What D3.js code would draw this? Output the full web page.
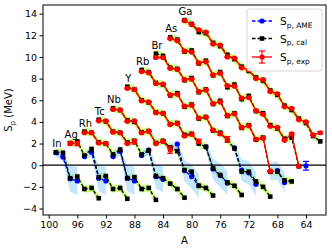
<!DOCTYPE html>
<html><head><meta charset="utf-8">
<script src="https://cdn.jsdelivr.net/npm/d3@7"></script>
<style>body{margin:0;background:#fff}svg{display:block}text{font-family:"DejaVu Sans",sans-serif}</style>
</head><body><svg id="c" width="332" height="252"></svg>
<script>
// ---- data ----
const elements = ["In","Ag","Rh","Tc","Nb","Y","Rb","Br","As","Ga"];
const massStart = [99,97,95,93,91,89,87,85,83,81];   // N = 50 isotones, chains go to lower A
const spCal = [
  [1.20,1.15,-1.20,-1.05,-2.20,-2.10,-3.05],
  [2.05,2.20,0.90,1.50,-1.10,-1.00,-2.20,-2.10,-3.10],
  [3.10,3.00,2.10,2.00,1.00,1.45,-1.20,-1.10,-2.20,-2.10,-3.20],
  [4.20,4.05,3.10,3.00,2.10,2.25,1.00,1.35,-1.00,-1.20,-1.70,-2.20,-3.00],
  [5.25,5.10,4.15,4.00,3.05,3.15,2.05,2.25,1.65,1.30,-0.45,-0.60,-1.90,-2.10,-2.80],
  [7.25,7.00,6.00,5.80,4.90,4.80,3.80,3.90,2.80,2.90,2.00,1.70,-0.30,-0.90,-1.60,-1.90,-2.75],
  [8.80,8.60,7.60,7.45,6.45,6.65,5.40,5.60,4.30,4.45,3.20,3.00,2.30,1.55,-0.60,-0.60,-1.50,-2.00,-2.90],
  [10.30,10.10,9.00,8.90,7.85,8.05,6.75,7.00,5.65,5.95,4.55,4.80,3.45,3.70,2.35,2.55,-0.60,-0.60,-1.40,-1.50],
  [11.80,11.60,10.50,10.60,9.40,9.65,8.30,8.60,7.20,7.45,6.10,6.40,5.00,4.80,3.70,3.40,2.45,2.55,-0.10],
  [13.40,13.05,12.30,12.20,11.30,11.00,10.20,9.80,9.10,8.70,8.10,7.80,6.90,6.50,5.50,5.10,4.30,3.90,2.70,2.20]
];
const spExp = [
  [],
  [2.00,2.00],
  [3.00,3.00,2.05,2.00],
  [4.10,4.10,3.05,3.00,2.00,2.15],
  [5.15,5.10,4.05,4.10,3.00,3.15,2.00,2.20,1.40],
  [7.10,7.00,5.95,5.85,4.85,4.80,3.75,3.85,2.70,2.85,2.20],
  [8.65,8.55,7.55,7.50,6.50,6.55,5.45,5.55,4.35,4.45,3.25,2.90,2.40],
  [9.95,9.95,8.95,8.85,7.90,7.95,6.80,6.95,5.70,5.85,4.60,4.75,3.50,3.65,2.40,2.50,-0.55],
  [11.70,11.50,10.55,10.45,9.45,9.55,8.35,8.50,7.35,7.30,6.20,6.25,5.05,4.70,3.60,3.50,2.30,2.90,-0.10],
  [13.35,13.00,12.50,12.30,11.20,11.10,10.00,9.90,9.00,8.80,8.00,7.90,6.80,6.60,5.40,5.25,4.20,4.00,2.80,3.00]
];
const spExpErr = [
  [],
  [0.15,0.20],
  [0.05,0.05,0.05,0.10],
  [0.05,0.05,0.05,0.05,0.05,0.20],
  [0.05,0.05,0.05,0.05,0.05,0.05,0.05,0.10,0.30],
  [0.05,0.05,0.05,0.05,0.05,0.05,0.05,0.05,0.05,0.10,0.20],
  [0.05,0.05,0.05,0.05,0.05,0.05,0.05,0.05,0.05,0.05,0.05,0.15,0.25],
  [0.05,0.05,0.05,0.05,0.05,0.05,0.05,0.05,0.05,0.05,0.05,0.05,0.05,0.05,0.10,0.10,0.05],
  [0.05,0.05,0.05,0.05,0.05,0.05,0.05,0.05,0.05,0.05,0.05,0.05,0.05,0.05,0.05,0.05,0.05,0.10,0.05],
  [0.05,0.05,0.05,0.05,0.05,0.05,0.05,0.05,0.05,0.05,0.05,0.05,0.05,0.05,0.05,0.05,0.05,0.05,0.05,0.10]
];
const ameMass = [
  [99,98,97,96],[95,94,93,92],[91,90,89,88],[87,86,85,84],[83,82,81,80,79],
  [78,77,76,75],[74,73,72,71],[69,68,67],[],[]
];
const spAme = [
  [1.15,0.75,-1.25,-1.45],[0.80,1.20,-1.20,-1.45],[0.80,1.30,-1.20,-1.45],[0.90,1.40,-1.05,-1.30],
  [1.55,1.95,-0.50,-1.05,-1.90],[1.70,-0.35,-0.95,-1.65],[1.60,-0.45,-0.70,-1.75],[-0.60,-0.50,-1.60],[],[]
];
const ameUnc = [
  [0.35,0.40,1.20,1.30],[0.35,0.40,1.20,1.30],[0.35,0.40,1.20,1.30],[0.35,0.40,1.10,1.20],
  [0.35,0.40,1.00,1.10,1.10],[0.40,1.00,1.10,1.10],[0.40,1.00,1.10,1.10],[0.80,0.90,0.90],[],[]
];
const ameErrMass = [64];
const ameErrSp = [-0.05];
const ameErr = [0.40];
const calBand = 0.35;
const xTicks = [100,96,92,88,84,80,76,72,68,64];
const yTicks = [-4,-2,0,2,4,6,8,10,12,14];

// ---- chart ----
const svg = d3.select("#c");
const L=43,R=326,T=5,B=215;
const x = d3.scaleLinear().domain([100.8,61.2]).range([L,R]);
const y = d3.scaleLinear().domain([-4.6,14.8]).range([B,T]);

svg.append("defs").append("clipPath").attr("id","pc")
  .append("rect").attr("x",L).attr("y",T).attr("width",R-L).attr("height",B-T);
const g = svg.append("g").attr("clip-path","url(#pc)");

const chains = elements.map((el,i)=>{
  const cal = spCal[i].map((s,k)=>({A:massStart[i]-k,s}));
  const exp = spExp[i].map((s,k)=>({A:massStart[i]-k,s,e:spExpErr[i][k]}));
  const ame = spAme[i].map((s,k)=>({A:ameMass[i][k],s,u:ameUnc[i][k]}));
  return {el,cal,exp,ame};
});

const line = d3.line().x(d=>x(d.A)).y(d=>y(d.s));
// green bands
chains.forEach(c=>{
  g.append("path").datum(c.cal)
    .attr("d",d3.area().x(d=>x(d.A)).y0(d=>y(d.s-calBand)).y1(d=>y(d.s+calBand)))
    .attr("fill","#adff2f").attr("opacity",0.6);
});
// blue bands
chains.forEach(c=>{
  if(!c.ame.length) return;
  g.append("path").datum(c.ame)
    .attr("d",d3.area().x(d=>x(d.A)).y0(d=>y(d.s-d.u)).y1(d=>y(d.s+d.u)))
    .attr("fill","#87cefa").attr("opacity",0.5);
});
// zero line
g.append("line").attr("x1",L).attr("x2",R).attr("y1",y(0)).attr("y2",y(0))
  .attr("stroke","#000").attr("stroke-width",1.2);
// AME
chains.forEach(c=>{
  if(!c.ame.length) return;
  g.append("path").datum(c.ame).attr("d",line).attr("fill","none")
    .attr("stroke","#0000ff").attr("stroke-width",1.3).attr("stroke-dasharray","3.5,2");
  g.selectAll(null).data(c.ame).enter().append("circle")
    .attr("cx",d=>x(d.A)).attr("cy",d=>y(d.s)).attr("r",2.6).attr("fill","#0000ff");
});
// cal
chains.forEach(c=>{
  g.append("path").datum(c.cal).attr("d",line).attr("fill","none")
    .attr("stroke","#000").attr("stroke-width",1.3).attr("stroke-dasharray","3.5,2");
  g.selectAll(null).data(c.cal).enter().append("rect")
    .attr("x",d=>x(d.A)-2.3).attr("y",d=>y(d.s)-2.3).attr("width",4.6).attr("height",4.6).attr("fill","#000");
});
// exp
function errbar(sel, data, color){
  data.forEach(d=>{
    const cx=x(d.A), y1=y(d.s-d.e), y2=y(d.s+d.e);
    sel.append("line").attr("x1",cx).attr("x2",cx).attr("y1",y1).attr("y2",y2).attr("stroke",color).attr("stroke-width",1.2);
    [y1,y2].forEach(yy=>sel.append("line").attr("x1",cx-3).attr("x2",cx+3).attr("y1",yy).attr("y2",yy).attr("stroke",color).attr("stroke-width",1.2));
  });
}
chains.forEach(c=>{
  if(!c.exp.length) return;
  g.append("path").datum(c.exp).attr("d",line).attr("fill","none")
    .attr("stroke","#ff0000").attr("stroke-width",1.3);
  errbar(g, c.exp, "#ff0000");
  g.selectAll(null).data(c.exp).enter().append("circle")
    .attr("cx",d=>x(d.A)).attr("cy",d=>y(d.s)).attr("r",2.6).attr("fill","#ff0000");
});
// separate AME point with error bar
const ameE = ameErrMass.map((A,k)=>({A,s:ameErrSp[k],e:ameErr[k]}));
errbar(g, ameE, "#0000ff");
g.selectAll(null).data(ameE).enter().append("circle")
  .attr("cx",d=>x(d.A)).attr("cy",d=>y(d.s)).attr("r",2.6).attr("fill","#0000ff");

// element labels
chains.forEach((c,i)=>{
  const s0 = c.exp.length ? Math.max(c.exp[0].s,c.cal[0].s) : c.cal[0].s;
  svg.append("text").attr("x",x(massStart[i])+1).attr("y",y(s0)-5)
    .attr("text-anchor","middle").attr("font-size",10).text(c.el);
});

// axes
const ax = svg.append("g").attr("transform",`translate(0,${B})`)
  .call(d3.axisBottom(x).tickValues(xTicks).tickSize(3.5).tickPadding(2.5));
const ay = svg.append("g").attr("transform",`translate(${L},0)`)
  .call(d3.axisLeft(y).tickValues(yTicks).tickSize(3.5).tickPadding(2.5).tickFormat(d=>d<0?"\u2212"+(-d):d));
[ax,ay].forEach(a=>{a.select(".domain").remove();a.selectAll("text").attr("font-size",9.5).attr("fill","#000").attr("font-family","DejaVu Sans");a.selectAll("line").attr("stroke","#000");});
svg.append("rect").attr("x",L).attr("y",T).attr("width",R-L).attr("height",B-T)
  .attr("fill","none").attr("stroke","#000").attr("stroke-width",1);

// axis labels
svg.append("text").attr("x",(L+R)/2).attr("y",244).attr("text-anchor","middle").attr("font-size",10).text("A");
const yl = svg.append("text").attr("transform",`translate(12,${(T+B)/2}) rotate(-90)`).attr("text-anchor","middle").attr("font-size",10);
yl.append("tspan").text("S");
yl.append("tspan").attr("font-size",7).attr("dy",2.5).text("p");
yl.append("tspan").attr("dy",-2.5).text(" (MeV)");

// legend
const lg = svg.append("g");
lg.append("rect").attr("x",247).attr("y",9).attr("width",75).attr("height",62).attr("rx",2.5)
  .attr("fill","#fff").attr("fill-opacity",0.85).attr("stroke","#ccc").attr("stroke-width",0.8);
const legItems = [
  {c:"#0000ff",sub:"p, AME",dash:"3.5,2",mk:"circle",yy:21},
  {c:"#000",sub:"p, cal",dash:"3.5,2",mk:"square",yy:38.5},
  {c:"#ff0000",sub:"p, exp",dash:null,mk:"err",yy:57}
];
legItems.forEach(it=>{
  lg.append("line").attr("x1",252).attr("x2",272).attr("y1",it.yy).attr("y2",it.yy)
    .attr("stroke",it.c).attr("stroke-width",1.3).attr("stroke-dasharray",it.dash);
  if(it.mk==="square") lg.append("rect").attr("x",259.7).attr("y",it.yy-2.3).attr("width",4.6).attr("height",4.6).attr("fill",it.c);
  else lg.append("circle").attr("cx",262).attr("cy",it.yy).attr("r",2.6).attr("fill",it.c);
  if(it.mk==="err"){
    lg.append("line").attr("x1",262).attr("x2",262).attr("y1",it.yy-6).attr("y2",it.yy+6).attr("stroke",it.c).attr("stroke-width",1.2);
    [it.yy-6,it.yy+6].forEach(v=>lg.append("line").attr("x1",259).attr("x2",265).attr("y1",v).attr("y2",v).attr("stroke",it.c).attr("stroke-width",1.2));
  }
  const t = lg.append("text").attr("x",280).attr("y",it.yy+4).attr("font-size",10.5);
  t.append("tspan").text("S");
  t.append("tspan").attr("font-size",7.5).attr("dy",2.5).text(it.sub);
});
</script></body></html>
